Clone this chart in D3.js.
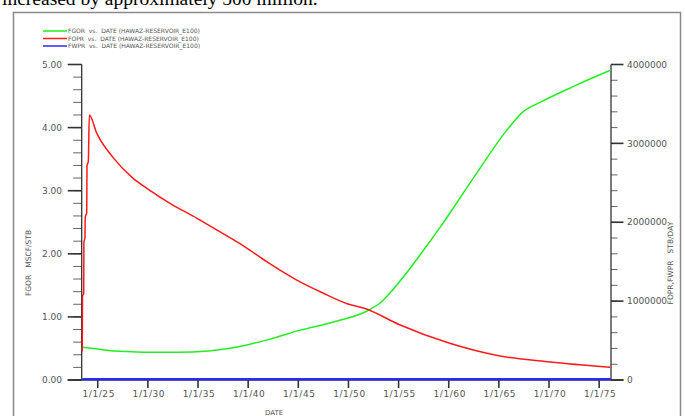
<!DOCTYPE html>
<html>
<head>
<meta charset="utf-8">
<script src="https://cdn.jsdelivr.net/npm/d3@7/dist/d3.min.js"></script>
<style>
  html, body { margin: 0; padding: 0; background: #fff; }
  svg { display: block; }
  text { font-family: "DejaVu Sans", Verdana, sans-serif; }
</style>
</head>
<body>
<svg id="chart" width="685" height="416"></svg>
<script>
// Gas-oil ratio (MSCF/STB) by decimal year
const fgorYears = [1923.45, 1925.0, 1926.7, 1928.0, 1930.0, 1933.0, 1936.0, 1938.0, 1940.0, 1942.0,
                   1945.2, 1948.5, 1951.8, 1953.15, 1955.1, 1957.5, 1959.1, 1962.45, 1965.8, 1967.4,
                   1969.1, 1972.4, 1976.0, 1976.15];
const fgorValues = [0.52, 0.49, 0.46, 0.45, 0.44, 0.44, 0.46, 0.50, 0.56, 0.64,
                    0.79, 0.92, 1.09, 1.22, 1.56, 2.06, 2.41, 3.20, 3.96, 4.25,
                    4.40, 4.65, 4.90, 4.91];

// Oil production rate (STB/DAY) by decimal year
const foprYears = [1923.46, 1923.48, 1923.60, 1923.62, 1923.72, 1923.76, 1923.90, 1923.93, 1924.06, 1924.16,
                   1924.9, 1926.6, 1928.5, 1929.9, 1932.2, 1934.9, 1936.9, 1939.9, 1941.85, 1944.8,
                   1947.5, 1949.8, 1951.8, 1955.1, 1960.1, 1965.1, 1970.1, 1976.1];
const foprValues = [360000, 1060000, 1100000, 1750000, 1800000, 2070000, 2120000, 2720000, 2770000, 3360000,
                    3130000, 2810000, 2560000, 2430000, 2240000, 2050000, 1900000, 1670000, 1500000, 1270000,
                    1100000, 970000, 900000, 700000, 465000, 304000, 228000, 161000];

// Water production rate (STB/DAY) by decimal year
const fwprYears = [1923.46, 1976.15];
const fwprValues = [0, 0];

// Axis tick labels
const dateTickYears = [1925, 1930, 1935, 1940, 1945, 1950, 1955, 1960, 1965, 1970, 1975];
const dateTickLabels = ["1/1/25", "1/1/30", "1/1/35", "1/1/40", "1/1/45", "1/1/50",
                        "1/1/55", "1/1/60", "1/1/65", "1/1/70", "1/1/75"];
const leftTickValues = [0, 1, 2, 3, 4, 5];
const leftTickLabels = ["0.00", "1.00", "2.00", "3.00", "4.00", "5.00"];
const rightTickValues = [0, 1000000, 2000000, 3000000, 4000000];
const rightTickLabels = ["0", "1000000", "2000000", "3000000", "4000000"];

const legendLabels = [
  "FGOR  vs.  DATE (HAWAZ-RESERVOIR_E100)",
  "FOPR  vs.  DATE (HAWAZ-RESERVOIR_E100)",
  "FWPR  vs.  DATE (HAWAZ-RESERVOIR_E100)"
];
const seriesColors = ["#22ee22", "#ff1a1a", "#2a2aff"];

const svg = d3.select("#chart");

// Sentence of surrounding document text, cut by the top edge
svg.append("text")
  .attr("x", 2).attr("y", 5)
  .style("font-family", "'Liberation Serif', 'Times New Roman', serif")
  .style("font-size", "19.5px")
  .attr("fill", "#000")
  .text("increased by approximately 500 million.");

// Frame
svg.append("rect")
  .attr("x", 13.5).attr("y", 12.5)
  .attr("width", 667).attr("height", 420)
  .attr("fill", "#fff")
  .attr("stroke", "#8a8a8a").attr("stroke-width", 1.5);

const plot = { left: 81.7, right: 611, top: 64.5, bottom: 380 };

const x = d3.scaleLinear().domain([1923.4, 1976.18]).range([plot.left, plot.right]);
const yL = d3.scaleLinear().domain([0, 5]).range([plot.bottom, plot.top]);
const yR = d3.scaleLinear().domain([0, 4000000]).range([plot.bottom, plot.top]);

const axisColor = "#333";
const labelColor = "#555";

// Left axis: minor ticks every 0.2
const leftMinor = d3.range(0, 5.0001, 0.2);
const gL = svg.append("g");
gL.selectAll("line.minor").data(leftMinor).join("line")
  .attr("x1", plot.left - 8.5).attr("x2", plot.left)
  .attr("y1", d => yL(d)).attr("y2", d => yL(d))
  .attr("stroke", "#666").attr("stroke-width", 1);
gL.selectAll("line.major").data(leftTickValues).join("line")
  .attr("x1", plot.left - 14).attr("x2", plot.left)
  .attr("y1", d => yL(d)).attr("y2", d => yL(d))
  .attr("stroke", axisColor).attr("stroke-width", 1.6);
gL.selectAll("text").data(leftTickValues).join("text")
  .attr("x", 62).attr("y", d => yL(d))
  .attr("dy", "0.35em")
  .attr("text-anchor", "end")
  .attr("fill", labelColor)
  .style("font-size", "9px")
  .text((d, i) => leftTickLabels[i]);
gL.append("line")
  .attr("x1", plot.left).attr("x2", plot.left)
  .attr("y1", plot.top).attr("y2", plot.bottom)
  .attr("stroke", axisColor).attr("stroke-width", 1.3);

// Right axis: minor ticks every 200000
const rightMinor = d3.range(0, 4000001, 200000);
const gR = svg.append("g");
gR.selectAll("line.minor").data(rightMinor).join("line")
  .attr("x1", plot.right).attr("x2", plot.right + 6.5)
  .attr("y1", d => yR(d)).attr("y2", d => yR(d))
  .attr("stroke", "#666").attr("stroke-width", 1);
gR.selectAll("line.major").data(rightTickValues).join("line")
  .attr("x1", plot.right).attr("x2", plot.right + 12.5)
  .attr("y1", d => yR(d)).attr("y2", d => yR(d))
  .attr("stroke", axisColor).attr("stroke-width", 1.6);
gR.selectAll("text").data(rightTickValues).join("text")
  .attr("x", 627).attr("y", d => yR(d))
  .attr("dy", "0.35em")
  .attr("fill", labelColor)
  .style("font-size", "9px")
  .text((d, i) => rightTickLabels[i]);
gR.append("line")
  .attr("x1", plot.right).attr("x2", plot.right)
  .attr("y1", plot.top).attr("y2", plot.bottom)
  .attr("stroke", axisColor).attr("stroke-width", 1.3);

// Bottom axis
const gB = svg.append("g");
gB.append("line")
  .attr("x1", plot.left - 14).attr("x2", plot.right + 12.5)
  .attr("y1", plot.bottom).attr("y2", plot.bottom)
  .attr("stroke", axisColor).attr("stroke-width", 1.6);
gB.selectAll("line.tick").data(dateTickYears).join("line")
  .attr("x1", d => x(d)).attr("x2", d => x(d))
  .attr("y1", plot.bottom).attr("y2", plot.bottom + 8)
  .attr("stroke", axisColor).attr("stroke-width", 1.6);
gB.selectAll("text").data(dateTickYears).join("text")
  .attr("x", d => x(d) + 1).attr("y", plot.bottom + 16.5)
  .attr("text-anchor", "middle")
  .attr("fill", labelColor)
  .style("font-size", "9px")
  .style("letter-spacing", "0.6px")
  .text((d, i) => dateTickLabels[i]);

// Axis titles
svg.append("text")
  .attr("x", 274).attr("y", 414.5)
  .attr("text-anchor", "middle")
  .attr("fill", labelColor)
  .style("font-size", "7px")
  .text("DATE");
svg.append("text")
  .attr("transform", "translate(31,263) rotate(-90)")
  .attr("text-anchor", "middle")
  .attr("fill", labelColor)
  .style("font-size", "7.5px")
  .style("white-space", "pre")
  .text("FGOR   MSCF/STB");
svg.append("text")
  .attr("transform", "translate(673,263) rotate(-90)")
  .attr("text-anchor", "middle")
  .attr("fill", labelColor)
  .style("font-size", "7.5px")
  .style("white-space", "pre")
  .text("FOPR,FWPR   STB/DAY");

// Data lines
const lineL = d3.line().x(d => x(d[0])).y(d => yL(d[1])).curve(d3.curveMonotoneX);
const lineR = d3.line().x(d => x(d[0])).y(d => yR(d[1])).curve(d3.curveMonotoneX);

svg.append("path")
  .datum(fwprYears.map((t, i) => [t, fwprValues[i]]))
  .attr("d", lineR)
  .attr("fill", "none").attr("stroke", seriesColors[2]).attr("stroke-width", 2.2)
  .attr("transform", "translate(0,-0.8)");
svg.append("path")
  .datum(fgorYears.map((t, i) => [t, fgorValues[i]]))
  .attr("d", lineL)
  .attr("fill", "none").attr("stroke", seriesColors[0]).attr("stroke-width", 1.5);
svg.append("path")
  .datum(foprYears.map((t, i) => [t, foprValues[i]]))
  .attr("d", lineR)
  .attr("fill", "none").attr("stroke", seriesColors[1]).attr("stroke-width", 1.5);

// Legend
const leg = svg.append("g");
legendLabels.forEach((lab, i) => {
  const yy = 31 + i * 7.5;
  leg.append("line")
    .attr("x1", 43).attr("x2", 67).attr("y1", yy).attr("y2", yy)
    .attr("stroke", seriesColors[i]).attr("stroke-width", 1.5);
  leg.append("text")
    .attr("x", 68).attr("y", yy).attr("dy", "0.35em")
    .attr("fill", "#555")
    .style("font-size", "6px")
    .style("white-space", "pre")
    .text(lab);
});
</script>
</body>
</html>
